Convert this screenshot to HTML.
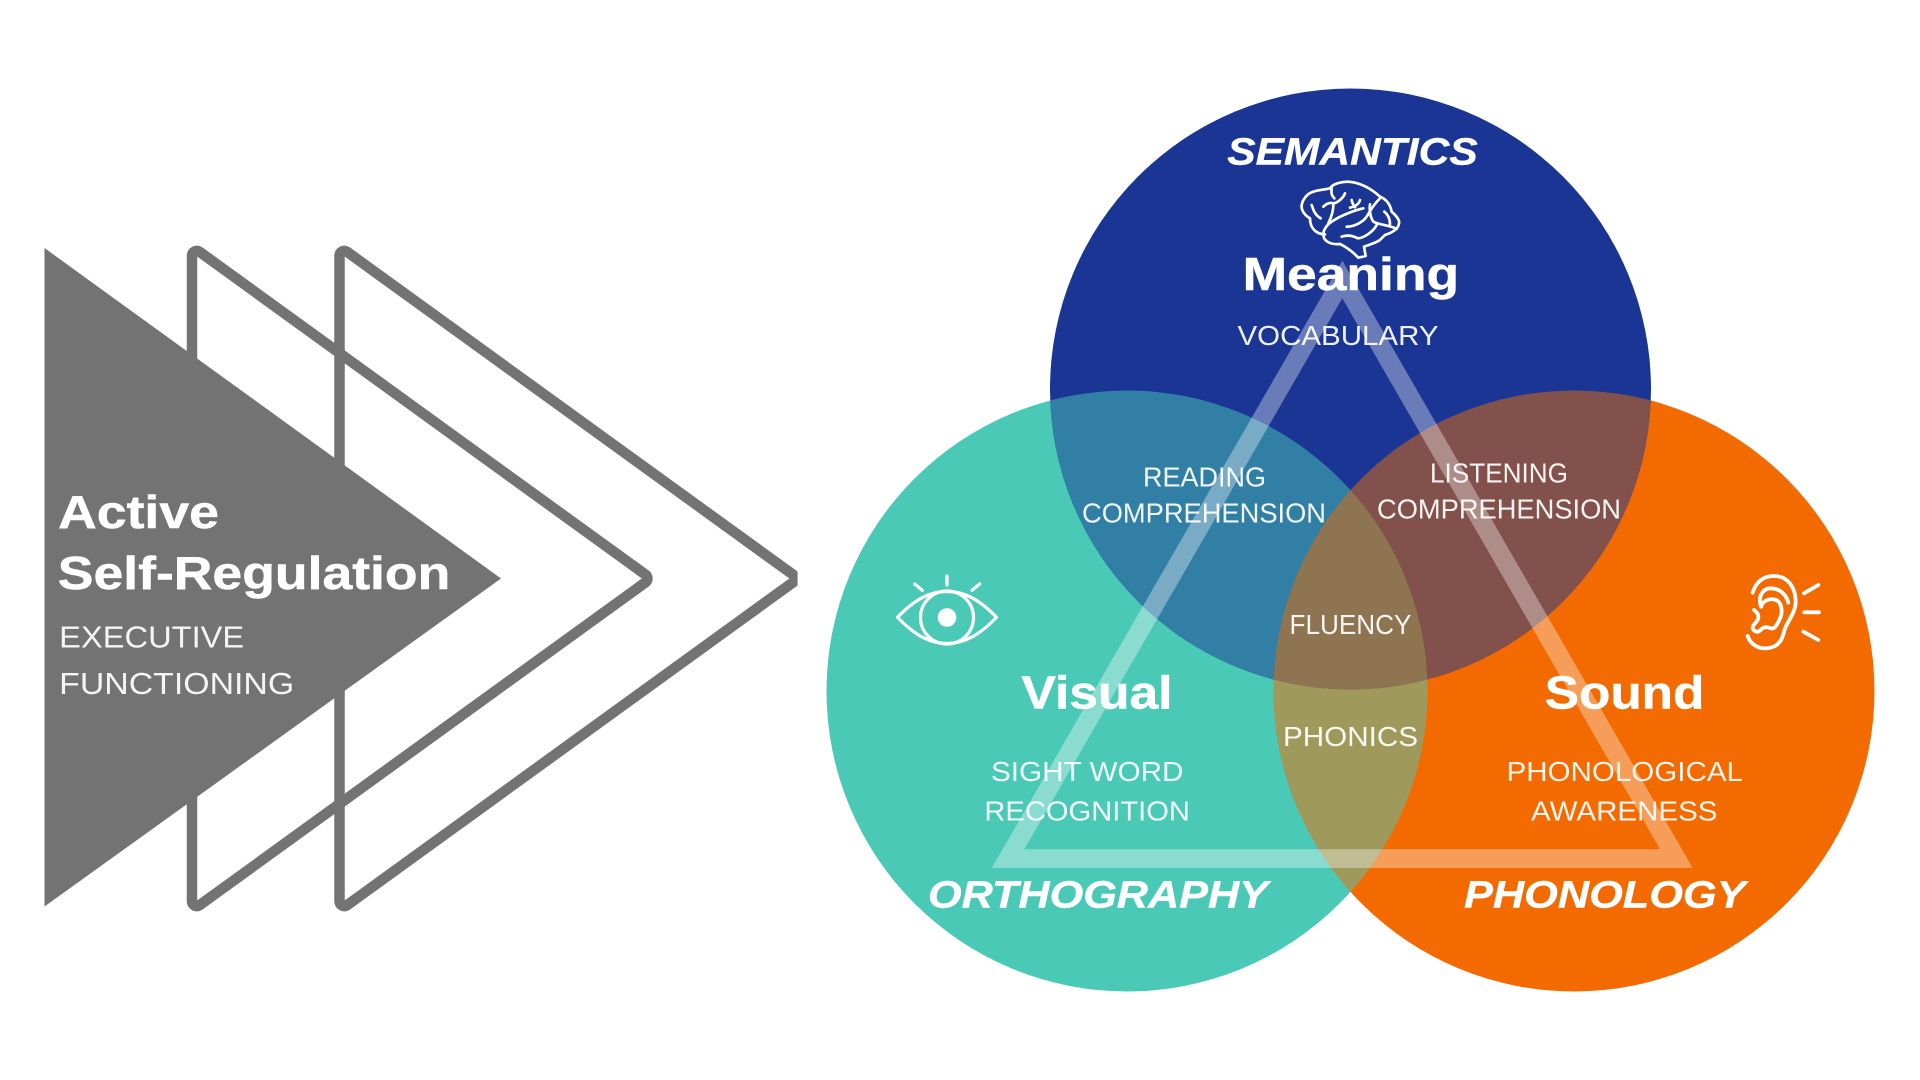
<!DOCTYPE html>
<html><head><meta charset="utf-8"><title>Active Self-Regulation diagram</title>
<style>
html,body{margin:0;padding:0;background:#fff;width:1920px;height:1080px;overflow:hidden}
svg{display:block}
text{font-family:"Liberation Sans",sans-serif;fill:#fff}
.h{font-weight:700;font-size:46px;stroke:#fff;stroke-width:.5px}
.i{font-weight:700;font-style:italic;font-size:38px;stroke:#fff;stroke-width:.4px}
.l{font-size:28px;fill-opacity:.93}
.ic{fill:none;stroke:#fff;stroke-linecap:round;stroke-linejoin:round}
</style></head><body>
<svg width="1920" height="1080" viewBox="0 0 1920 1080" xmlns="http://www.w3.org/2000/svg">
<defs>
<clipPath id="ct"><circle cx="1127" cy="691" r="300.5"/></clipPath>
<clipPath id="co"><circle cx="1574" cy="691" r="300.5"/></clipPath>
<clipPath id="cr"><rect x="0" y="0" width="797.6" height="1080"/></clipPath>
<path id="chev" fill-rule="evenodd" d="M186.75 255.6A10 10 0 0 1 202.6 247.5L648.6 570.4A10 10 0 0 1 648.6 586.6L202.6 909.5A10 10 0 0 1 186.75 901.4ZM197.25 256.6V900.4L641.8 578.5Z"/>
</defs>
<rect width="1920" height="1080" fill="#fff"/>
<g fill="#737373">
<use href="#chev"/>
<g clip-path="url(#cr)"><use href="#chev" x="147.5"/></g>
<polygon points="44.5,248 501,578.5 44.5,906.5"/>
</g>
<text class="h" x="58" y="528.2" textLength="161" lengthAdjust="spacingAndGlyphs">Active</text>
<text class="h" x="57.8" y="589" textLength="392.5" lengthAdjust="spacingAndGlyphs">Self-Regulation</text>
<text class="l" style="font-size:31px" x="59.2" y="647.5" textLength="185" lengthAdjust="spacingAndGlyphs">EXECUTIVE</text>
<text class="l" style="font-size:31px" x="59.2" y="694.2" textLength="235" lengthAdjust="spacingAndGlyphs">FUNCTIONING</text>

<circle cx="1127" cy="691" r="300.5" fill="#4acab6"/>
<circle cx="1574" cy="691" r="300.5" fill="#f26a00"/>
<circle cx="1350.5" cy="389" r="300.5" fill="#1a3594"/>
<g clip-path="url(#ct)"><circle cx="1574" cy="691" r="300.5" fill="#9f9a5c"/><circle cx="1350.5" cy="389" r="300.5" fill="#327fa6"/></g>
<g clip-path="url(#co)"><circle cx="1350.5" cy="389" r="300.5" fill="#83514b"/></g>
<g clip-path="url(#ct)"><g clip-path="url(#co)"><circle cx="1350.5" cy="389" r="300.5" fill="#8e7450"/></g></g>

<path fill="#fff" fill-opacity=".35" fill-rule="evenodd" d="M1342.3 260.7L1692.7 868H991.8ZM1342.3 298.3L1024.3 849.3H1660Z"/>

<text class="i" x="1227.3" y="164.3" textLength="250.4" lengthAdjust="spacingAndGlyphs">SEMANTICS</text>
<text class="h" x="1242.6" y="290" textLength="216.5" lengthAdjust="spacingAndGlyphs">Meaning</text>
<text class="l" x="1237.5" y="345" textLength="201" lengthAdjust="spacingAndGlyphs">VOCABULARY</text>
<text class="l" x="1143" y="486.7" textLength="123" lengthAdjust="spacingAndGlyphs">READING</text>
<text class="l" x="1082" y="522.3" textLength="244" lengthAdjust="spacingAndGlyphs">COMPREHENSION</text>
<text class="l" x="1430" y="482.7" textLength="138" lengthAdjust="spacingAndGlyphs">LISTENING</text>
<text class="l" x="1377" y="518.3" textLength="244" lengthAdjust="spacingAndGlyphs">COMPREHENSION</text>
<text class="l" x="1289.5" y="634" textLength="122" lengthAdjust="spacingAndGlyphs">FLUENCY</text>
<text class="l" x="1283" y="746" textLength="135" lengthAdjust="spacingAndGlyphs">PHONICS</text>
<text class="h" x="1021.5" y="708.3" textLength="151" lengthAdjust="spacingAndGlyphs">Visual</text>
<text class="h" x="1544.8" y="708.3" textLength="159.5" lengthAdjust="spacingAndGlyphs">Sound</text>
<text class="l" x="991" y="781" textLength="192.5" lengthAdjust="spacingAndGlyphs">SIGHT WORD</text>
<text class="l" x="984.4" y="820.7" textLength="205.5" lengthAdjust="spacingAndGlyphs">RECOGNITION</text>
<text class="l" x="1506.5" y="781" textLength="236.5" lengthAdjust="spacingAndGlyphs">PHONOLOGICAL</text>
<text class="l" x="1531" y="820.7" textLength="186.5" lengthAdjust="spacingAndGlyphs">AWARENESS</text>
<text class="i" x="928" y="907.5" textLength="340" lengthAdjust="spacingAndGlyphs">ORTHOGRAPHY</text>
<text class="i" x="1464" y="907.5" textLength="281.5" lengthAdjust="spacingAndGlyphs">PHONOLOGY</text>

<!-- eye -->
<g class="ic" stroke-width="3.2">
<path d="M897.5 617.3C915 599 930 591.5 947 591.5S979 599 996.5 617.3C979 635.5 964 643.5 947 643.5S915 635.5 897.5 617.3Z"/>
<circle cx="947" cy="617.5" r="26.5"/>
<path d="M947 576V585M914.7 584L922.3 590.3M979.7 584L972 590.3"/>
</g>
<circle cx="947" cy="617.5" r="9.3" fill="#fff"/>

<!-- ear -->
<g class="ic" stroke-width="11.5" transform="translate(1730 560) scale(.3333)">
<path d="M68 98C80 60 105 48 132 48C175 48 197 85 197 125C197 160 170 185 162 215C155 250 135 265 105 265C80 265 60 250 53 228"/>
<path d="M175 128C168 100 145 85 122 85C100 85 88 105 90 125C91 135 92 138 93 140"/>
<path d="M93 140C98 120 125 112 142 122C158 135 158 160 148 180C140 195 135 208 122 205C108 198 98 202 90 212C80 220 68 212 68 202C70 190 85 185 85 172C85 160 78 155 72 150"/>
<path d="M222 100L265 75M223 157H267M220 215L265 240"/>
</g>

<!-- brain -->
<g class="ic" stroke-width="8" transform="translate(1295 175) scale(.3333)">
<path d="M90 178C62 178 45 158 45 130C28 120 18 105 20 90C24 70 38 55 55 50C72 44 90 44 105 40C112 28 135 20 160 20C188 22 222 35 255 65C272 72 285 85 290 110C305 122 315 138 312 145C310 165 285 175 270 180C262 188 258 192 255 195C240 205 225 208 207 215L212 243L190 248C175 232 160 220 135 207C105 210 85 198 85 178C85 165 95 150 110 140C130 126 170 108 205 100"/>
<path d="M50 90C55 105 60 120 77 130"/>
<path d="M85 95C95 85 105 82 115 85C125 85 145 70 150 55"/>
<path d="M115 85C116 105 110 125 100 145"/>
<path d="M165 98C178 95 192 88 195 75M170 75C172 85 176 92 180 97"/>
<path d="M155 155C180 155 205 140 215 125C225 110 230 95 255 70"/>
<path d="M225 88C222 110 228 130 235 140C250 150 285 150 305 162"/>
<path d="M268 110C280 120 285 132 285 147"/>
<path d="M140 185C155 180 170 180 188 190C205 190 235 170 245 150"/>
<path d="M110 40C108 55 110 62 118 70"/>
</g>
</svg>
</body></html>
